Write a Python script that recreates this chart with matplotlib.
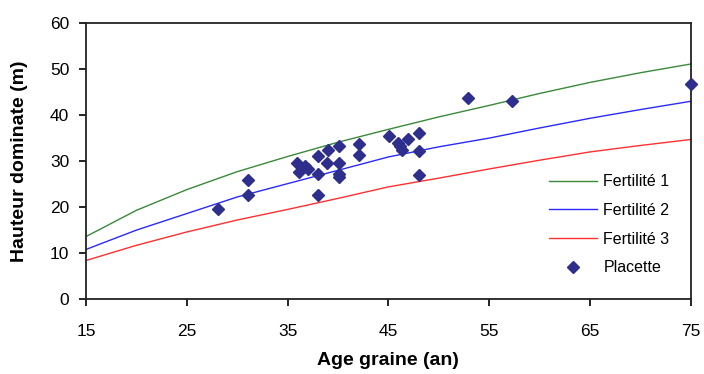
import matplotlib
matplotlib.use("Agg")
import matplotlib.pyplot as plt

plt.rcParams['font.family'] = ['Liberation Sans', 'DejaVu Sans']

# -----------------------------
# data
# -----------------------------
curve_age = [15, 20, 25, 30, 35, 40, 45, 50, 55, 60, 65, 70, 75]
fert1 = [13.6, 19.3, 23.8, 27.7, 31.0, 34.1, 36.9, 39.6, 42.1, 44.7, 47.1, 49.2, 51.1]
fert2 = [10.8, 15.0, 18.6, 22.2, 25.1, 28.0, 30.9, 33.1, 35.0, 37.2, 39.3, 41.2, 43.0]
fert3 = [8.4, 11.7, 14.6, 17.2, 19.5, 21.9, 24.4, 26.3, 28.3, 30.2, 32.0, 33.4, 34.7]

plac_age = [28.1, 31.1, 31.1, 35.9, 36.7, 36.1, 37.0, 38.0, 38.0, 38.0,
            39.0, 38.9, 40.1, 40.1, 40.1, 40.1, 42.1, 42.1, 45.1, 45.9,
            46.1, 46.3, 46.9, 48.0, 48.0, 48.0, 52.9, 57.3, 75.0]
plac_h = [19.7, 26.0, 22.6, 29.5, 28.9, 27.7, 28.2, 31.1, 27.3, 22.6,
          32.5, 29.6, 33.2, 29.6, 27.1, 26.5, 33.8, 31.3, 35.4, 34.0,
          33.2, 32.5, 34.9, 36.2, 32.2, 26.9, 43.8, 43.1, 46.7]

x_ticks = [15, 25, 35, 45, 55, 65, 75]
y_ticks = [0, 10, 20, 30, 40, 50, 60]

# -----------------------------
# plot
# -----------------------------
fig = plt.figure(figsize=(7.04, 3.74), dpi=100)
ax = fig.add_axes([0.122, 0.2, 0.8595, 0.7385])

ax.plot(curve_age, fert1, color="#3a8a3a", lw=1.0, label="Fertilité 1", clip_on=False)
ax.plot(curve_age, fert2, color="#2a2aff", lw=1.0, label="Fertilité 2", clip_on=False)
ax.plot(curve_age, fert3, color="#ff3030", lw=1.0, label="Fertilité 3", clip_on=False)
ax.plot(plac_age, plac_h, linestyle="none", marker="D", markersize=6,
        color="#2e2e8c", label="Placette", clip_on=False, zorder=5)

ax.set_xlim(15, 75)
ax.set_ylim(0, 60)
ax.set_xticks(x_ticks)
ax.set_yticks(y_ticks)
ax.tick_params(axis="x", direction="out", length=5, width=1.2, pad=13, labelsize=12.5)
ax.tick_params(axis="y", direction="out", length=5, width=1.2, pad=7, labelsize=12.5)
for s in ax.spines.values():
    s.set_linewidth(1.3)
    s.set_color("#222222")

ax.set_xlabel("Age graine (an)", fontweight="bold", fontsize=14, labelpad=9)
ax.set_ylabel("Hauteur dominate (m)", fontweight="bold", fontsize=14, labelpad=16)

ax.legend(loc="upper left", bbox_to_anchor=(0.755, 0.475), frameon=False,
          fontsize=11.5, handlelength=3.0, handletextpad=0.4, labelspacing=0.85,
          borderaxespad=0)

fig.savefig("out.png", dpi=100)
